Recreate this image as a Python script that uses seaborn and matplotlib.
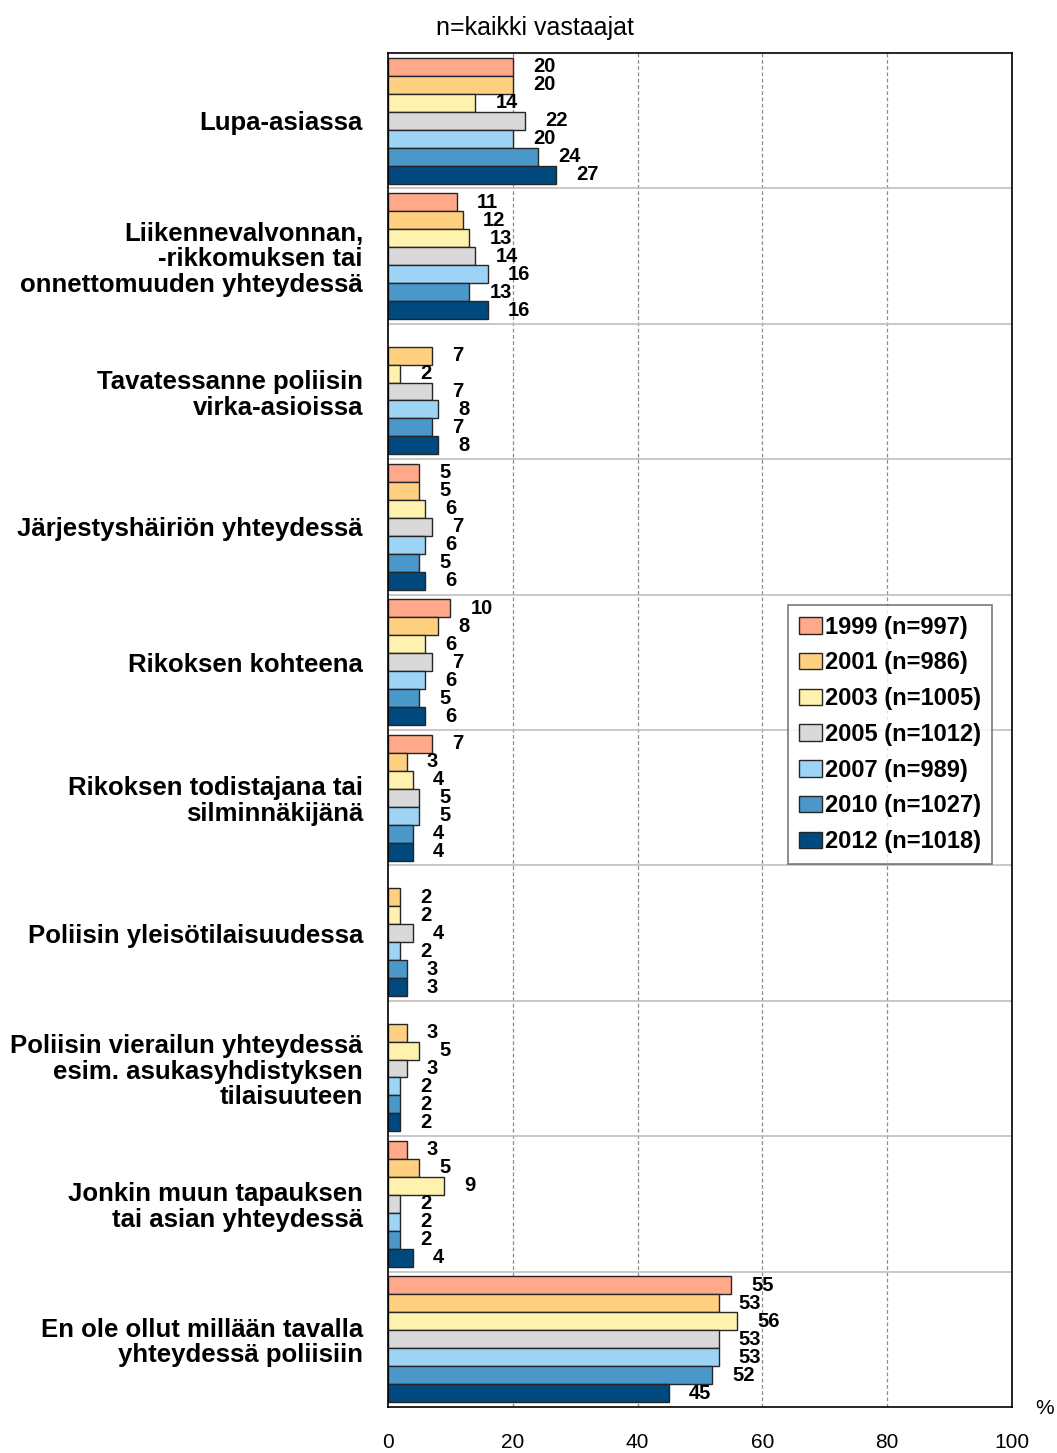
import numpy as np
import pandas as pd
import matplotlib
matplotlib.use("Agg")
import matplotlib.pyplot as plt
import seaborn as sns

# Survey categories (top to bottom)
categories = [
    "Lupa-asiassa",
    "Liikennevalvonnan,\n-rikkomuksen tai\nonnettomuuden yhteydessä",
    "Tavatessanne poliisin\nvirka-asioissa",
    "Järjestyshäiriön yhteydessä",
    "Rikoksen kohteena",
    "Rikoksen todistajana tai\nsilminnäkijänä",
    "Poliisin yleisötilaisuudessa",
    "Poliisin vierailun yhteydessä\nesim. asukasyhdistyksen\ntilaisuuteen",
    "Jonkin muun tapauksen\ntai asian yhteydessä",
    "En ole ollut millään tavalla\nyhteydessä poliisiin",
]

years = [
    "1999 (n=997)",
    "2001 (n=986)",
    "2003 (n=1005)",
    "2005 (n=1012)",
    "2007 (n=989)",
    "2010 (n=1027)",
    "2012 (n=1018)",
]

# Percentages per survey year (NaN = not asked that year)
v1999 = [20, 11, np.nan, 5, 10, 7, np.nan, np.nan, 3, 55]
v2001 = [20, 12, 7, 5, 8, 3, 2, 3, 5, 53]
v2003 = [14, 13, 2, 6, 6, 4, 2, 5, 9, 56]
v2005 = [22, 14, 7, 7, 7, 5, 4, 3, 2, 53]
v2007 = [20, 16, 8, 6, 6, 5, 2, 2, 2, 53]
v2010 = [24, 13, 7, 5, 5, 4, 3, 2, 2, 52]
v2012 = [27, 16, 8, 6, 6, 4, 3, 2, 4, 45]

colors = ["#FFA98A", "#FFD07F", "#FFF2AE", "#D9D9D9", "#9DD3F5", "#4A98C9", "#00497E"]

series = [v1999, v2001, v2003, v2005, v2007, v2010, v2012]
rows = []
for yr, vals in zip(years, series):
    for cat, v in zip(categories, vals):
        rows.append({"category": cat, "year": yr, "value": v})
df = pd.DataFrame(rows).dropna()

sns.set_theme(style="white")
plt.rcParams["font.family"] = ["Liberation Sans", "DejaVu Sans"]
plt.rcParams["text.color"] = "black"
plt.rcParams["xtick.color"] = "black"
plt.rcParams["ytick.color"] = "black"

fig = plt.figure(figsize=(10.57, 14.53), dpi=100)
ax = fig.add_axes([388 / 1057, 1 - 1407 / 1453, (1012 - 388) / 1057, (1407 - 53) / 1453])

sns.barplot(
    data=df, y="category", x="value", hue="year",
    order=categories, hue_order=years, palette=colors,
    orient="h", errorbar=None, width=0.93, dodge=True,
    edgecolor="#262626", linewidth=1.0, saturation=1.0, ax=ax,
)

ax.set_xlim(0, 100)
ax.set_ylim(len(categories) - 0.5, -0.5)
ax.set_xticks(np.arange(0, 101, 20))
ax.tick_params(axis="x", labelsize=15, pad=19, length=4, direction="in",
               colors="black", labelcolor="black")
ax.tick_params(axis="y", labelsize=18.5, pad=18, length=0, labelcolor="black")
for lbl in ax.get_yticklabels():
    lbl.set_fontweight("bold")
    lbl.set_linespacing(1.08)
    lbl.set_color("black")
ax.set_xlabel("")
ax.set_ylabel("")

# Dashed vertical grid and solid separators between categories
for x in [20, 40, 60, 80]:
    ax.axvline(x, color="#8C8C8C", linestyle=(0, (3, 2)), linewidth=0.9, zorder=0)
for i in range(len(categories) - 1):
    ax.axhline(i + 0.5, color="#BFBFBF", linewidth=1.2, zorder=0.5)

for sp in ax.spines.values():
    sp.set_visible(True)
    sp.set_color("black")
    sp.set_linewidth(1.2)

# Value labels next to each bar
for cont in ax.containers:
    ax.bar_label(cont, fmt="%d", padding=14.5, fontsize=14.5, fontweight="bold", color="black")

leg = ax.legend(
    loc="upper left", bbox_to_anchor=(788 / 1057, 1 - 605 / 1453),
    bbox_transform=fig.transFigure, borderaxespad=0, frameon=True, fancybox=False,
    prop={"family": "Liberation Sans", "size": 17, "weight": "bold"},
    handlelength=1.0, handleheight=0.7,
    handletextpad=0.12, labelspacing=0.54, borderpad=0.45, title=None,
)
leg.get_frame().set_edgecolor("#595959")
leg.get_frame().set_linewidth(1.2)
for t in leg.get_texts():
    t.set_color("black")
    t.set_fontweight("bold")

fig.text(535 / 1057, 1 - 28 / 1453, "n=kaikki vastaajat", ha="center", va="center",
         fontsize=18, color="black")
fig.text(1045 / 1057, 1 - 1408 / 1453, "%", ha="center", va="center", fontsize=15,
         color="black")

fig.savefig("out.png", dpi=100)
